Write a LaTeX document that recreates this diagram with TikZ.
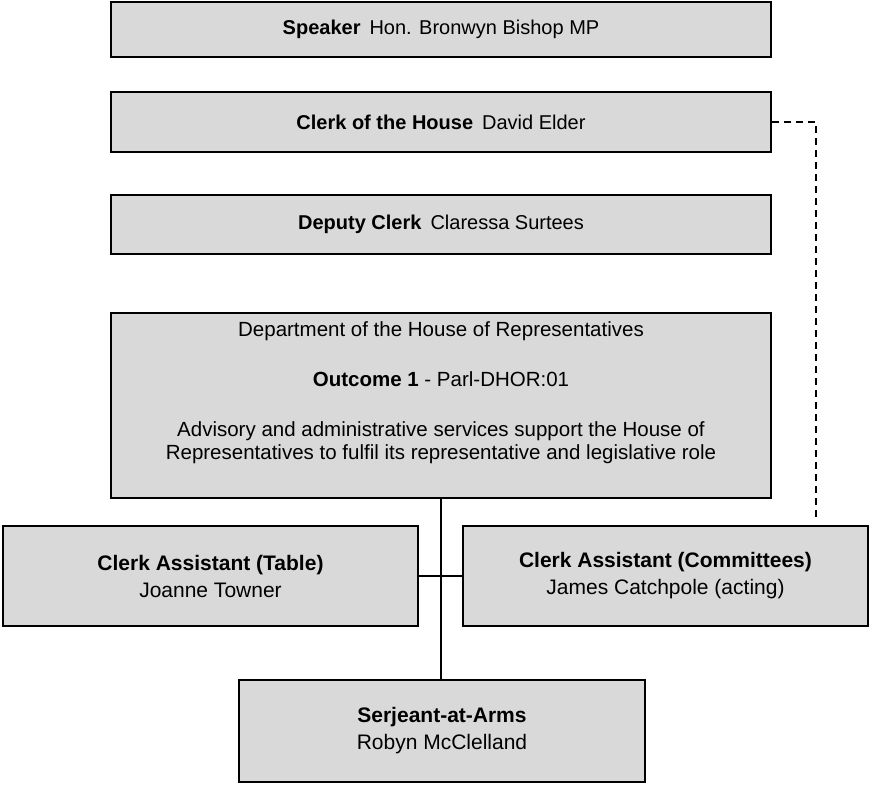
\documentclass[tikz,border=0pt]{standalone}
\usepackage{fontspec}
\setmainfont{Liberation Sans}
\begin{document}
\begin{tikzpicture}[x=1pt,y=-1pt,
  box/.style={draw=black,line width=1.5pt,fill=boxgray,rectangle,inner sep=0pt,align=center,
    font=\fontsize{20}{26}\selectfont},
  lowbox/.style={box,font=\fontsize{21}{27}\selectfont},
  link/.style={draw=black,line width=1.2pt},
  dlink/.style={draw=black,line width=1.3pt,dash pattern=on 7pt off 5pt}]
\definecolor{boxgray}{HTML}{D9D9D9}
\useasboundingbox (0,0) rectangle (869,784);
\node[box,minimum width=660pt,minimum height=55pt] (speaker) at (441,29.5)
  {\textbf{Speaker}\hspace{0.45em}Hon. Bronwyn Bishop MP};
\node[box,minimum width=660pt,minimum height=60pt] (clerk) at (441,122)
  {\textbf{Clerk of the House}\hspace{0.45em}David Elder};
\node[box,minimum width=660pt,minimum height=59pt] (deputy) at (441,224.5)
  {\textbf{Deputy Clerk}\hspace{0.45em}Claressa Surtees};
\node[box,minimum width=660pt,minimum height=185pt] (dept) at (441,405.5) {};
\node[align=center,inner sep=0pt,font=\fontsize{20.5}{23}\selectfont,anchor=north] (depttxt) at (441,321)
  {Department of the House of Representatives\\[27pt]
   \textbf{Outcome 1} - Parl-DHOR:01\\[27pt]
   Advisory and administrative services support the House of\\
   Representatives to fulfil its representative and legislative role};
\node[lowbox,minimum width=415pt,minimum height=100pt] (table) at (210.5,576)
  {\textbf{Clerk Assistant (Table)}\\Joanne Towner};
\node[lowbox,minimum width=405pt,minimum height=100pt] (comm) at (665.5,576)
  {\textbf{Clerk Assistant (Committees)}\\James Catchpole (acting)};
\node[lowbox,minimum width=406pt,minimum height=102pt] (serj) at (442,731)
  {\textbf{Serjeant-at-Arms}\\Robyn McClelland};
\coordinate (dend) at (816,520);
\draw[link] (dept.south) -- (dept.south |- serj.north);
\draw[link] (table.east) -- (comm.west);
\draw[dlink] (clerk.east) -| (dend);
\end{tikzpicture}
\end{document}
